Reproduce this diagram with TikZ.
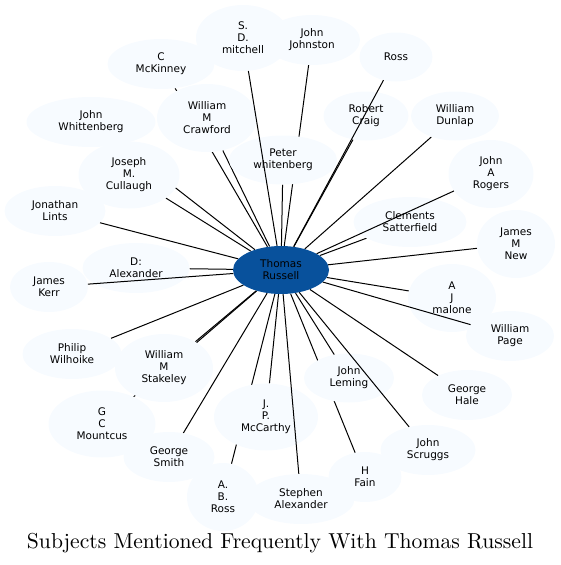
\documentclass[tikz,border=0pt]{standalone}
\usepackage{fontspec}
\usepackage{graphicx}
\newfontfamily\nodefont{DejaVu Sans}
\usetikzlibrary{shapes.geometric}
\pgfdeclarelayer{bg}
\pgfsetlayers{bg,main}
\definecolor{nodefill}{HTML}{F7FBFF}
\definecolor{hubfill}{HTML}{08519C}
\tikzset{
  subj/.style={ellipse, fill=nodefill, inner sep=0pt, align=center,
    font=\nodefont\fontsize{10.5}{12}\selectfont},
  hub/.style={ellipse, fill=hubfill, inner sep=0pt, align=center,
    font=\nodefont\fontsize{10.5}{12}\selectfont, text=black},
  link/.style={draw=black, line width=1pt},
  sz/.style 2 args={minimum width=#1pt, minimum height=#2pt},
}
\begin{document}
\begin{tikzpicture}[x=1pt,y=-1pt]
\useasboundingbox (0,0) rectangle (560,565);
% nodes
\node[subj, sz={94}{66}] (mitchell) at (243,38) {S.\\D.\\mitchell};
\node[subj, sz={96}{50}] (johnston) at (312,40) {John\\Johnston};
\node[subj, sz={73}{49}] (ross) at (396,57) {Ross};
\node[subj, sz={107}{50}] (mckinney) at (161,64) {C\\McKinney};
\node[subj, sz={100}{68}] (crawford) at (207,118) {William\\M\\Crawford};
\node[subj, sz={129}{50}] (whittenberg) at (91,122) {John\\Whittenberg};
\node[subj, sz={85}{49}] (craig) at (366,116) {Robert\\Craig};
\node[subj, sz={88}{49}] (dunlap) at (455,116) {William\\Dunlap};
\node[subj, sz={108}{49}] (peter) at (283,160) {Peter\\whitenberg};
\node[subj, sz={101}{67}] (cullaugh) at (129,175) {Joseph\\M.\\Cullaugh};
\node[subj, sz={85}{68}] (rogers) at (491,174) {John\\A\\Rogers};
\node[subj, sz={101}{50}] (lints) at (55,211) {Jonathan\\Lints};
\node[subj, sz={113}{50}] (clements) at (410,222) {Clements\\Satterfield};
\node[subj, sz={78}{68}] (new) at (516,244) {James\\M\\New};
\node[subj, sz={107}{50}] (dalex) at (136,268) {D:\\Alexander};
\node[subj, sz={78}{50}] (kerr) at (49,287) {James\\Kerr};
\node[subj, sz={88}{68}] (malone) at (452,298) {A\\J\\malone};
\node[subj, sz={88}{50}] (page) at (510,336) {William\\Page};
\node[subj, sz={99}{50}] (wilhoike) at (72,354) {Philip\\Wilhoike};
\node[subj, sz={98}{68}] (stakeley) at (164,368) {William\\M\\Stakeley};
\node[subj, sz={107}{67}] (mountcus) at (102,424) {G\\C\\Mountcus};
\node[subj, sz={91}{50}] (smith) at (169,457) {George\\Smith};
\node[subj, sz={104}{67}] (mccarthy) at (266,417) {J.\\P.\\McCarthy};
\node[subj, sz={72}{68}] (abross) at (223,497) {A.\\B.\\Ross};
\node[subj, sz={107}{50}] (salex) at (301,499) {Stephen\\Alexander};
\node[subj, sz={90}{49}] (leming) at (349,378) {John\\Leming};
\node[subj, sz={90}{50}] (hale) at (467,395) {George\\Hale};
\node[subj, sz={95}{50}] (scruggs) at (428,450) {John\\Scruggs};
\node[subj, sz={73}{50}] (fain) at (365,477) {H\\Fain};
\node[hub, sz={96}{48}] (hub) at (281,270) {Thomas\\Russell};
% edges hidden under nodes
\begin{pgfonlayer}{bg}
\foreach \n in {johnston,mckinney,crawford,whittenberg,craig,dunlap,peter,
  cullaugh,lints,clements,new,dalex,malone,wilhoike,stakeley,mountcus,
  smith,mccarthy,abross,leming,hale,fain}
  \draw[link] (hub) -- (\n);
\end{pgfonlayer}
% edges drawn over nodes
\foreach \n in {mitchell,ross,rogers,page,scruggs,kerr,salex}
  \draw[link] (hub) -- (\n);
% title
\node[anchor=base, inner sep=0pt] (title) at (280,548)
  {\resizebox{506pt}{!}{Subjects Mentioned Frequently With Thomas Russell}};
\end{tikzpicture}
\end{document}
